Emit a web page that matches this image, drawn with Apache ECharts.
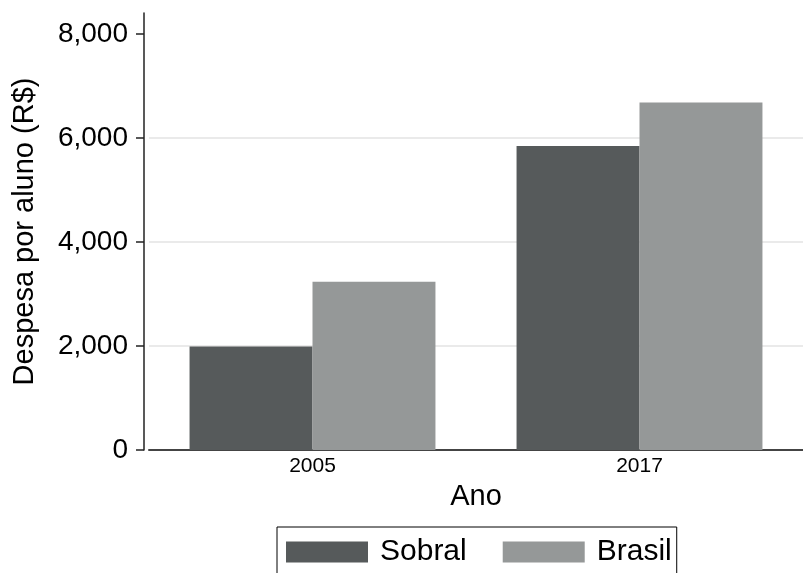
<!DOCTYPE html>
<html>
<head>
<meta charset="utf-8">
<script src="https://cdn.jsdelivr.net/npm/echarts@6/dist/echarts.min.js"></script>
<style>
  html, body { margin: 0; padding: 0; background: #fff; }
  #chart { width: 803px; height: 573px; }
</style>
</head>
<body>
<div id="chart"></div>
<script>
// dados
const anos = ["2005", "2017"];
const sobral = [1990, 5845];
const brasil = [3236, 6680];
const yTicks = [0, 2000, 4000, 6000, 8000];

const fonte = "'Liberation Sans', Arial, sans-serif";

const chart = echarts.init(document.getElementById("chart"));
chart.setOption({
  animation: false,
  textStyle: { fontFamily: fonte, color: "#000" },
  grid: { left: 149, right: 0, top: 13, bottom: 123 },
  legend: {
    data: ["Sobral", "Brasil"],
    left: 277,
    top: 527,
    orient: "horizontal",
    icon: "rect",
    itemWidth: 82,
    itemHeight: 21,
    itemGap: 36,
    padding: [10, 5, 30, 9],
    borderColor: "#000",
    borderWidth: 1,
    textStyle: { fontFamily: fonte, fontSize: 30, color: "#000", padding: [0, 0, 0, 7] },
  },
  xAxis: {
    type: "category",
    data: anos,
    name: "Ano",
    nameLocation: "middle",
    nameGap: 32,
    nameTextStyle: { fontFamily: fonte, fontSize: 29, color: "#000" },
    axisLine: { lineStyle: { color: "#444", width: 2 } },
    axisTick: { show: false },
    axisLabel: { fontFamily: fonte, fontSize: 21, color: "#000", margin: 6 },
  },
  yAxis: {
    type: "value",
    min: 0,
    max: 8400,
    offset: 5,
    name: "Despesa por aluno (R$)",
    nameLocation: "middle",
    nameGap: 105,
    nameTextStyle: { fontFamily: fonte, fontSize: 29, color: "#000" },
    axisLine: { show: true, lineStyle: { color: "#222", width: 1.5 } },
    axisTick: { show: true, length: 8, customValues: yTicks, lineStyle: { color: "#222", width: 1.5 } },
    axisLabel: { customValues: yTicks, fontFamily: fonte, fontSize: 28, color: "#000", margin: 16 },
    splitLine: {
      show: true,
      lineStyle: {
        color: ["rgba(0,0,0,0)", "#e3e3e3", "#e3e3e3", "#e3e3e3", "rgba(0,0,0,0)"],
        width: 1.5,
      },
    },
  },
  series: [
    {
      name: "Sobral",
      type: "bar",
      data: sobral,
      barGap: "0%",
      barCategoryGap: "24.8%",
      itemStyle: { color: "#565a5b" },
    },
    {
      name: "Brasil",
      type: "bar",
      data: brasil,
      itemStyle: { color: "#959898" },
    },
  ],
});
</script>
</body>
</html>
